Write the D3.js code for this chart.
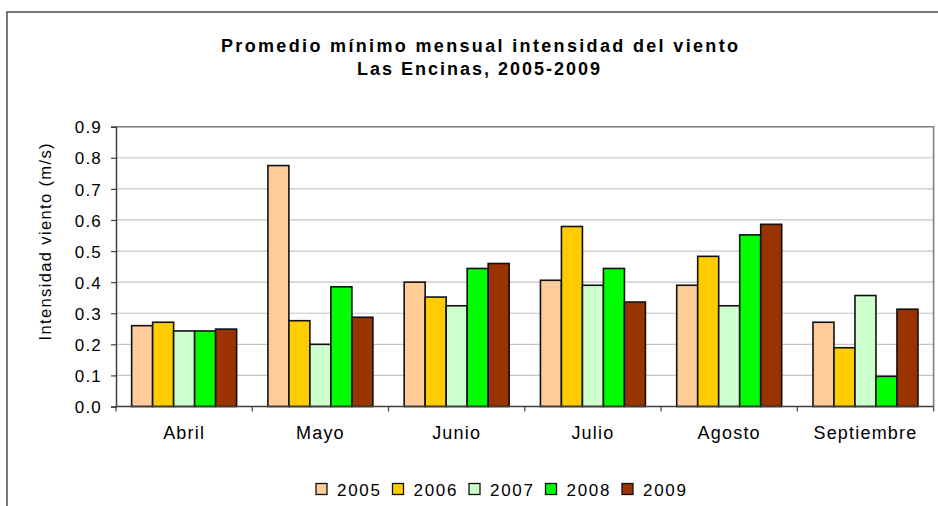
<!DOCTYPE html>
<html><head><meta charset="utf-8">
<script src="https://cdn.jsdelivr.net/npm/d3@7"></script>
<style>
html,body{margin:0;padding:0;background:#fff;}
svg{display:block;font-family:"Liberation Sans",Arial,sans-serif;}
</style></head>
<body><svg id="c" width="938" height="506"></svg>
<script>
const months = ["Abril","Mayo","Junio","Julio","Agosto","Septiembre"];
const years = ["2005","2006","2007","2008","2009"];
const colors = ["#FFCC99","#FFCC00","#CCFFCC","#00FF00","#993300"];
const v2005 = [0.26, 0.775, 0.40, 0.406, 0.39, 0.271];
const v2006 = [0.271, 0.276, 0.352, 0.579, 0.483, 0.189];
const v2007 = [0.243, 0.20, 0.324, 0.39, 0.324, 0.357];
const v2008 = [0.243, 0.385, 0.444, 0.444, 0.552, 0.097];
const v2009 = [0.249, 0.287, 0.46, 0.336, 0.586, 0.313];
const yTicks = [0,0.1,0.2,0.3,0.4,0.5,0.6,0.7,0.8,0.9];
const titleLines = ["Promedio mínimo mensual intensidad del viento","Las Encinas, 2005-2009"];
const yTitle = "Intensidad viento (m/s)";

const series = [v2005,v2006,v2007,v2008,v2009];
const svg = d3.select("#c");
const FF = "'Liberation Sans',Arial,sans-serif";

// outer frame
svg.append("rect").attr("x",7).attr("y",12).attr("width",960).attr("height",520)
  .attr("fill","none").attr("stroke","#333").attr("stroke-width",1.3);

const L=116, R=933.6, T=126.7, B=406.5;
const x0 = d3.scaleBand().domain(months).range([L,R]).paddingInner(0.2295).paddingOuter(0.11475);
const x1 = d3.scaleBand().domain(years).range([0,x0.bandwidth()]);
const y = d3.scaleLinear().domain([0,0.9]).range([B,T]);

// gridlines
svg.append("g").selectAll("line").data(yTicks.filter(d=>d>0)).join("line")
  .attr("x1",L).attr("x2",R).attr("y1",d=>y(d)).attr("y2",d=>y(d))
  .attr("stroke",d=>Math.abs(d-0.8)<1e-9?"#dcdcdc":"#c4c4c4")
  .attr("stroke-width",d=>Math.abs(d-0.8)<1e-9?2:1.2);

// plot border top/right
svg.append("path").attr("d",`M${L},${T}H${R}V${B}`).attr("fill","none")
  .attr("stroke","#808080").attr("stroke-width",1.6);

// bars
const g = svg.append("g");
months.forEach((m,i)=>{
  years.forEach((yr,j)=>{
    g.append("rect")
      .attr("x",x0(m)+x1(yr)).attr("y",y(series[j][i]))
      .attr("width",x1.bandwidth()).attr("height",B-y(series[j][i]))
      .attr("fill",colors[j]).attr("stroke","#111").attr("stroke-width",1.6);
  });
});

// y axis
const yAxis = d3.axisLeft(y).tickValues(yTicks).tickFormat(d3.format(".1f")).tickSize(5).tickPadding(9);
const ya = svg.append("g").attr("transform",`translate(${L},0)`).call(yAxis);
ya.select(".domain").attr("stroke","#404040").attr("stroke-width",1.5);
ya.selectAll(".tick line").attr("stroke","#404040").attr("stroke-width",1.2);
ya.selectAll(".tick text").attr("font-size",17).attr("fill","#000").attr("letter-spacing","1.2px")
  .attr("font-family",FF).attr("dy","0.36em");

// x axis
const step = x0.step();
const bounds = months.map(m=>x0(m)-x0.paddingInner()*step/2).concat([R]);
svg.append("line").attr("x1",L).attr("x2",R).attr("y1",B).attr("y2",B)
  .attr("stroke","#404040").attr("stroke-width",1.6);
svg.append("g").selectAll("line").data(bounds).join("line")
  .attr("x1",d=>d).attr("x2",d=>d).attr("y1",B).attr("y2",B+5)
  .attr("stroke","#404040").attr("stroke-width",1.2);
svg.append("g").selectAll("text").data(months).join("text")
  .attr("x",d=>x0(d)+x0.bandwidth()/2).attr("y",439)
  .attr("text-anchor","middle").attr("font-size",18).attr("letter-spacing","1.2px")
  .text(d=>d);

// titles
svg.append("text").attr("x",479.5).attr("y",52).attr("text-anchor","middle")
  .attr("font-size",18).attr("font-weight","bold")
  .attr("textLength",517).attr("lengthAdjust","spacing").text(titleLines[0]);
svg.append("text").attr("x",478.5).attr("y",75).attr("text-anchor","middle")
  .attr("font-size",18).attr("font-weight","bold")
  .attr("textLength",243).attr("lengthAdjust","spacing").text(titleLines[1]);

// y title
svg.append("text").attr("transform","translate(51,242) rotate(-90)")
  .attr("text-anchor","middle").attr("font-size",16.5)
  .attr("textLength",197).attr("lengthAdjust","spacing").text(yTitle);

// legend
const lg = svg.append("g");
years.forEach((yr,j)=>{
  const lx = 316 + j*76.5;
  lg.append("rect").attr("x",lx).attr("y",483.5).attr("width",11).attr("height",11)
    .attr("fill",colors[j]).attr("stroke","#111").attr("stroke-width",1.3);
  lg.append("text").attr("x",lx+21).attr("y",495.5).attr("font-size",17)
    .attr("textLength",43).attr("lengthAdjust","spacing").text(yr);
});
</script></body></html>
